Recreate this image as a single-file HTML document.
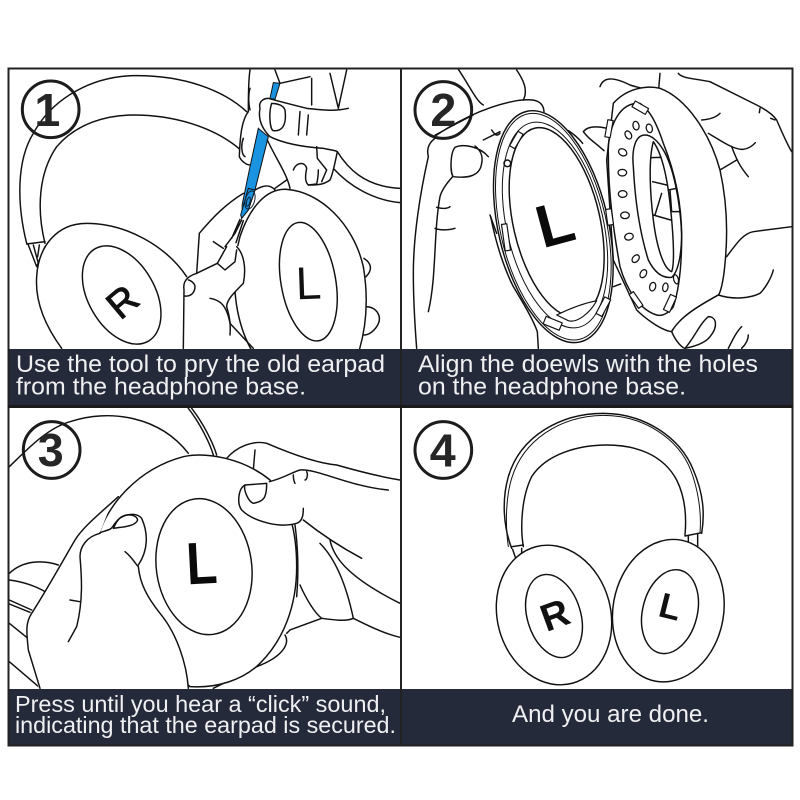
<!DOCTYPE html>
<html><head><meta charset="utf-8"><style>
html,body{margin:0;padding:0;background:#fff}
svg{display:block}
.l{fill:none;stroke:#111;stroke-width:4.4;stroke-linecap:round;stroke-linejoin:round}
.w{fill:#fff;stroke:#111;stroke-width:4.4;stroke-linejoin:round}
.f{fill:#fff;stroke:none}
text{font-family:"Liberation Sans",sans-serif}
.c{fill:#eef0f2;font-size:24.3px}
.c3{fill:#eef0f2;font-size:23.5px}
.n{font-weight:bold;font-size:140px;fill:#262626;text-anchor:middle}
.r{fill:none;stroke:#1c1c1c;stroke-width:9}
</style></head><body>
<svg width="800" height="800" viewBox="0 0 800 800" xmlns="http://www.w3.org/2000/svg">
<defs>
<clipPath id="p1"><rect x="0" y="0" width="1200" height="870"/></clipPath>
<clipPath id="p2"><rect x="5" y="0" width="1172" height="870"/></clipPath>
<clipPath id="p3"><rect x="25" y="24" width="1175" height="846"/></clipPath>
</defs>
<rect width="800" height="800" fill="#fff"/>

<!-- PANEL 1 -->
<g transform="translate(0,60) scale(.33333)" clip-path="url(#p1)">
<g class="l">
<path d="M80 550C50 430 50 300 100 220C160 110 280 50 400 47C550 45 670 90 740 155"/>
<path d="M135 550C110 450 115 340 170 260C230 190 320 165 400 165C520 165 640 200 720 268"/>
<path d="M80 552L135 545M85 555L110 620L135 560M100 555L115 610M118 555L113 590"/>
<path d="M1012 275C1040 320 1090 380 1200 385M1000 325C1050 380 1120 420 1200 428"/>
</g>
<path class="f" d="M185 880C130 790 105 720 110 650C115 560 170 490 260 490C380 490 500 560 560 650L560 880Z"/>
<path class="l" d="M185 865C130 790 105 720 110 650C115 560 170 490 260 490C380 490 500 560 560 650"/>
<ellipse class="l" cx="365" cy="705" rx="100" ry="160" transform="rotate(-30 365 705)"/>
<text x="367" y="765" font-size="115" fill="#111" stroke="#111" stroke-width="3" text-anchor="middle" transform="rotate(-40 367 725)">R</text>
<!-- upper hand -->
<path class="f" d="M750 30L745 155C725 180 720 230 718 290L750 315L780 385L990 375L1012 275L1045 145L1040 30Z"/>
<g class="l">
<path d="M750 30C745 60 745 120 745 155C725 180 720 230 718 290C725 305 740 315 750 315"/>
<path d="M750 85C745 100 745 130 750 150M730 235C722 255 725 285 735 290"/>
<path d="M825 30L840 70L930 50M935 55L935 135M990 40L1015 145L1040 30"/>
</g>
<path d="M820 68L840 70L825 118L810 115Z" fill="#1a93e0" stroke="#111" stroke-width="3"/>
<path d="M775 205L805 230L765 390L745 450L725 475L720 465L750 320Z" fill="#1a93e0" stroke="#111" stroke-width="3"/>
<g class="l">
<path d="M1045 145C1000 155 970 150 920 145C880 135 840 125 805 115C790 115 775 125 780 145C775 170 780 200 810 230C850 250 900 260 970 265C990 270 1005 270 1012 275C1005 310 995 350 990 360C970 375 950 375 925 375"/>
<path d="M815 130C805 160 810 210 820 212C850 215 860 190 855 150C850 135 830 130 815 130"/>
<path d="M900 155L895 225M925 165L920 225"/>
<path d="M802 240C830 300 860 340 870 385"/>
<path d="M880 330C890 305 915 305 920 325C915 350 915 365 925 375L950 372C955 350 955 335 955 330"/>
<path d="M950 260L952 295L980 330L965 365"/>
<path d="M765 390C790 375 810 372 825 390M825 385L860 360"/>
</g>
<!-- L pad -->
<path class="l" d="M1092 595C1115 610 1118 630 1098 650M1095 740C1130 740 1150 770 1130 800C1120 815 1105 825 1092 825"/>
<path class="w" d="M760 880C700 780 690 640 720 530C750 440 800 385 860 388C960 395 1060 490 1090 620C1105 710 1100 800 1075 880Z"/>
<ellipse class="l" cx="925" cy="665" rx="82" ry="180" transform="rotate(-10 925 665)"/>
<text x="887" y="717" font-size="138" fill="#111" transform="rotate(-2 925 670)">L</text>
<!-- lower hand -->
<path class="f" d="M595 640L598 520C640 470 680 430 725 400L725 475L700 555L720 560C745 590 740 620 730 670C700 700 680 720 690 790L760 880L550 880L552 690C548 665 560 650 595 640Z"/>
<g class="l">
<path d="M590 640L598 520C640 470 680 430 730 400"/>
<path d="M590 640L652 610"/>
<path d="M680 560L652 610L675 630L705 605L710 570"/>
<path d="M710 560C730 580 740 620 730 670C700 700 680 720 680 740C695 790 690 810 690 825"/>
<path d="M640 545L670 565"/>
<path d="M550 865L552 690C548 665 560 650 590 640M555 708C570 710 585 700 585 680C585 670 570 660 565 660"/>
<path d="M630 715C660 720 680 735 690 790L760 865"/>
<path d="M725 480L705 520L675 560M720 478L695 535M730 482L708 548"/>
</g>
<path d="M725 475L745 450L765 390L745 385L722 465Z" fill="#1a93e0" stroke="#111" stroke-width="3"/>
<ellipse cx="750" cy="420" rx="14" ry="28" transform="rotate(15 750 420)" fill="none" stroke="#123" stroke-width="3"/>
<ellipse cx="745" cy="425" rx="5" ry="14" transform="rotate(15 745 425)" fill="none" stroke="#123" stroke-width="3"/>
<circle class="r" cx="152" cy="148" r="85"/>
<text class="n" x="142" y="198">1</text>
</g>

<!-- PANEL 2 -->
<g transform="translate(400,60) scale(.33333)" clip-path="url(#p2)">
<g class="l">
<path d="M175 28C210 80 230 125 250 135M350 30C370 60 385 90 370 120"/>
<path d="M100 232C160 190 250 140 350 122C400 115 430 120 432 155"/>
<path d="M105 235C85 250 80 270 85 290C60 400 40 530 40 640C40 720 45 800 50 865"/>
<path d="M158 350C140 370 125 390 120 410C100 520 110 650 85 755M110 442C130 448 145 445 150 440M105 505C120 512 150 510 165 505"/>
<path d="M265 290C240 260 190 250 165 262C150 280 150 340 160 350C200 355 240 350 245 310C250 285 240 270 225 258"/>
<path d="M250 240L300 215M275 210C285 225 290 230 300 220"/>
<path d="M272 470C280 510 300 600 340 680C370 730 400 780 412 815L415 865"/>
<path d="M550 215C565 195 600 200 622 205M550 215C565 235 575 240 612 272M640 680L662 672"/>
<path d="M600 80C610 50 640 50 690 75C720 85 760 90 780 100M780 40L775 100"/>
<path d="M835 40C845 55 880 55 930 65L1070 135C1100 150 1120 165 1130 180C1145 215 1160 250 1175 275M1080 145L1078 158M1112 175L1125 180"/>
<path d="M905 180C930 178 950 170 960 160"/>
<path d="M925 220C960 240 1000 270 1030 268C1050 265 1060 255 1066 248"/>
<path d="M995 260C1010 300 1020 320 1045 350M960 330L1010 300"/>
<path d="M980 590C1010 550 1030 520 1060 515L1175 500"/>
<path d="M955 705C1000 720 1050 715 1080 700C1100 680 1115 650 1120 630"/>
</g>
<path class="w" d="M640 130C680 85 740 75 780 85C860 115 930 220 960 330C980 420 985 510 975 610C970 670 960 700 955 705C900 735 840 770 815 815C780 810 730 770 710 750L640 600L620 300Z"/>
<path class="w" d="M720 130C650 125 622 220 625 280C625 400 640 510 660 620C680 690 720 750 770 765C790 770 810 755 820 740C840 680 845 600 845 530C845 440 830 350 790 250C770 190 750 150 720 130Z"/>
<path class="l" d="M735 225C705 225 695 270 700 320C705 420 720 520 745 600C765 640 790 655 815 652C840 630 845 560 845 520C840 420 820 320 790 270C775 245 755 225 735 225Z"/>
<path class="l" d="M760 245C745 300 750 400 760 480C770 560 790 625 815 635C825 610 820 520 810 430C800 340 785 280 760 245Z"/>
<path class="l" d="M755 293L783 292M758 365L800 375M785 400L765 465M760 465L812 480M805 390L830 385M810 390L815 455L840 455"/>
<g class="l" style="stroke-width:3.8">
<ellipse cx="708" cy="197" rx="9" ry="13" transform="rotate(-12 708 197)"/><ellipse cx="748" cy="205" rx="9" ry="13" transform="rotate(-15 748 205)"/>
<ellipse cx="685" cy="225" rx="9" ry="13" transform="rotate(-30 685 225)"/><ellipse cx="668" cy="277" rx="13" ry="10" transform="rotate(30 668 277)"/>
<ellipse cx="667" cy="338" rx="13" ry="10"/><ellipse cx="668" cy="402" rx="13" ry="10"/><ellipse cx="675" cy="466" rx="13" ry="10"/><ellipse cx="687" cy="530" rx="13" ry="10" transform="rotate(-15 687 530)"/>
<ellipse cx="707" cy="596" rx="9" ry="13" transform="rotate(40 707 596)"/><ellipse cx="730" cy="641" rx="9" ry="13" transform="rotate(30 730 641)"/>
<ellipse cx="758" cy="680" rx="9" ry="13" transform="rotate(15 758 680)"/><ellipse cx="796" cy="682" rx="8" ry="13" transform="rotate(10 796 682)"/>
<ellipse cx="828" cy="658" rx="7" ry="14" transform="rotate(-15 828 658)"/>
</g>
<g class="w" style="stroke-width:3.5">
<rect x="698" y="133" width="46" height="20" transform="rotate(30 721 143)"/>
<rect x="619" y="180" width="16" height="52" transform="rotate(10 627 206)"/>
<rect x="700" y="695" width="16" height="50" transform="rotate(-35 708 720)"/>
<rect x="800" y="705" width="20" height="50" transform="rotate(25 810 730)"/>
</g>
<!-- ring -->
<ellipse class="w" cx="460" cy="500" rx="165" ry="355" transform="rotate(-13 460 500)"/>
<ellipse class="l" cx="460" cy="500" rx="159" ry="347" transform="rotate(-13 460 500)" style="stroke-width:3"/>
<ellipse class="l" cx="465" cy="495" rx="145" ry="315" transform="rotate(-13 465 495)" style="stroke-width:3"/>
<ellipse class="w" cx="470" cy="487" rx="130" ry="290" transform="rotate(-13 470 487)"/>
<text x="0" y="0" font-size="180" font-weight="bold" fill="#0a0a0a" transform="translate(428 565) rotate(-15)">L</text>
<g class="w" style="stroke-width:3.5">
<rect x="340" y="215" width="18" height="50" transform="rotate(30 349 240)"/>
<rect x="310" y="492" width="16" height="80" transform="rotate(-8 318 532)"/>
<rect x="620" y="447" width="17" height="48" transform="rotate(-8 629 470)"/>
<rect x="600" y="712" width="20" height="56" transform="rotate(28 610 740)"/>
<rect x="432" y="778" width="52" height="24" transform="rotate(22 458 790)"/>
<path d="M470 765C510 745 550 730 590 722C570 760 530 790 505 782Z"/>
</g>
<path class="l" d="M505 212C525 225 540 240 548 250M270 465L290 520"/>
<circle class="l" cx="322" cy="310" r="10"/>
<!-- lower right fingers -->
<path class="f" d="M840 780C825 790 818 800 820 815C830 850 850 865 855 868L985 880L1175 880L1175 830L955 710Z"/>
<path class="l" d="M955 705C900 735 840 770 815 815C830 850 850 865 855 865M855 865C885 830 900 790 925 770C950 770 955 800 930 830C915 850 880 860 855 865M985 865C1000 835 1010 815 1025 800M1025 865C1040 850 1045 835 1045 825"/>
<circle class="r" cx="130" cy="150" r="85"/>
<text class="n" x="130" y="198">2</text>
<path class="l" d="M105 225L220 165" style="stroke-width:3.5"/>
</g>

<!-- PANEL 3 -->
<g transform="translate(0,400) scale(.33333)" clip-path="url(#p3)">
<g class="l">
<path d="M28 200C80 150 140 85 210 65C330 25 480 50 565 160"/>
<path d="M565 25C600 70 630 130 640 165M575 25C610 70 640 130 650 165"/>
<path d="M28 520C70 480 130 480 175 495M28 540C70 545 110 560 135 575M28 600L95 630M28 612L90 637M28 670L80 712M28 785L118 862"/>
<path d="M680 175C710 140 760 120 800 130C870 160 950 190 1010 195C1080 215 1140 230 1200 240M765 150L760 210"/>
<path d="M910 360C960 400 1020 440 1085 475M990 420C1000 470 1040 530 1200 610M960 430C1010 480 1040 560 1060 655"/>
<path d="M900 555C920 600 945 640 965 655C1000 660 1040 665 1060 655C1100 675 1150 700 1200 712M965 655L870 690L860 700"/>
<path d="M855 705C870 730 850 770 770 800L640 865"/>
</g>
<path class="w" d="M300 395C320 330 400 210 550 170C620 155 730 175 810 240C870 310 890 400 890 500C890 620 850 720 780 790C730 840 650 865 570 860L300 600Z"/>
<ellipse class="l" cx="612" cy="500" rx="143" ry="205" transform="rotate(-8 612 500)"/>
<text x="0" y="0" font-size="178" font-weight="bold" fill="#0a0a0a" transform="translate(562 553) rotate(-3) scale(.85 1)">L</text>
<path class="f" d="M340 295C300 340 250 380 225 420C190 480 140 570 95 640C75 670 80 700 85 750L120 880L565 880C560 790 530 700 480 640C440 590 420 550 415 500C445 450 445 400 425 355C410 335 365 340 345 370C330 390 340 385 300 398Z"/>
<g class="l">
<path d="M355 290C300 340 250 380 225 420C190 480 140 570 95 640C75 670 80 700 85 750L120 865"/>
<path d="M300 400C260 410 240 440 240 470C245 530 250 600 230 680L205 725M210 600L240 605"/>
<path d="M300 398C340 385 330 390 345 370C365 340 410 335 425 355C445 400 445 450 415 495"/>
<path d="M340 385C370 380 405 380 413 360C410 345 385 340 365 350C350 360 345 375 340 385"/>
<path d="M375 455C395 470 405 490 415 500C420 550 440 590 480 640C530 700 560 790 565 865"/>
<path d="M885 375C895 450 895 530 890 590"/>
</g>
<path class="f" d="M735 255C715 265 710 310 725 330C760 365 840 385 890 370C905 365 910 350 910 325L1165 270C1050 260 950 205 900 210C880 215 850 235 808 245Z"/>
<g class="l">
<path d="M808 245C850 235 880 215 900 210C950 205 1050 260 1165 270"/>
<path d="M800 250L735 255C730 270 745 305 760 310C790 305 800 295 800 250"/>
<path d="M735 255C715 265 710 310 725 330C760 365 840 385 890 370C905 365 910 350 910 325"/>
<path d="M880 225C880 240 885 250 885 250M920 215C925 225 920 240 915 240"/>
</g>
<circle class="r" cx="155" cy="150" r="85"/>
<text class="n" x="152" y="198">3</text>
</g>

<!-- PANEL 4 -->
<g transform="translate(400,400) scale(.33333)">
<g class="l">
<path d="M335 445C310 380 305 300 325 230C360 110 480 40 610 40C730 40 840 110 880 210C910 280 915 340 905 400"/>
<path d="M325 440C315 370 318 290 335 235C370 120 480 48 610 46C730 46 835 115 872 210C895 270 905 340 900 398" style="stroke-width:3"/>
<path d="M370 440C360 380 365 290 395 230C440 160 540 135 620 135C710 135 790 165 830 240C855 290 860 350 855 405"/>
<path d="M335 440L370 435M855 408L905 398M338 448L347 475M365 445L365 460M865 410L865 425M893 400L893 438"/>
</g>
<ellipse class="w" cx="462" cy="645" rx="170" ry="212" transform="rotate(-15 462 645)"/>
<ellipse class="l" cx="462" cy="648" rx="80" ry="128" transform="rotate(-17 462 648)"/>
<text x="0" y="0" font-size="115" font-weight="bold" fill="#111" text-anchor="middle" transform="translate(478 682) rotate(-20)">R</text>
<ellipse class="w" cx="805" cy="632" rx="166" ry="215" transform="rotate(10 805 632)"/>
<ellipse class="l" cx="810" cy="635" rx="82" ry="128" transform="rotate(14 810 635)"/>
<text x="0" y="0" font-size="105" font-weight="bold" fill="#111" text-anchor="middle" transform="translate(802 655) rotate(14)">L</text>
<circle class="r" cx="130" cy="150" r="85"/>
<text class="n" x="128" y="200">4</text>
</g>

<!-- banners -->
<rect x="9" y="349" width="783" height="56" fill="#252a3a"/>
<rect x="9" y="689" width="783" height="56" fill="#252a3a"/>
<text class="c" x="16" y="372" textLength="369" lengthAdjust="spacingAndGlyphs">Use the tool to pry the old earpad</text>
<text class="c" x="16" y="394.5" textLength="290" lengthAdjust="spacingAndGlyphs">from the headphone base.</text>
<text class="c" x="418" y="372" textLength="340" lengthAdjust="spacingAndGlyphs">Align the doewls with the holes</text>
<text class="c" x="418" y="394.5" textLength="268" lengthAdjust="spacingAndGlyphs">on the headphone base.</text>
<text class="c3" x="15" y="712" textLength="371" lengthAdjust="spacingAndGlyphs">Press until you hear a “click” sound,</text>
<text class="c3" x="15" y="733" textLength="381" lengthAdjust="spacingAndGlyphs">indicating that the earpad is secured.</text>
<text class="c" x="512" y="722" textLength="197" lengthAdjust="spacingAndGlyphs">And you are done.</text>

<!-- frame -->
<rect x="8.5" y="68.5" width="784" height="677" fill="none" stroke="#222" stroke-width="2"/>
<rect x="400" y="68" width="2" height="678" fill="#222"/>
<rect x="8" y="405" width="785" height="3" fill="#1a1a1a"/>
</svg>
</body></html>
